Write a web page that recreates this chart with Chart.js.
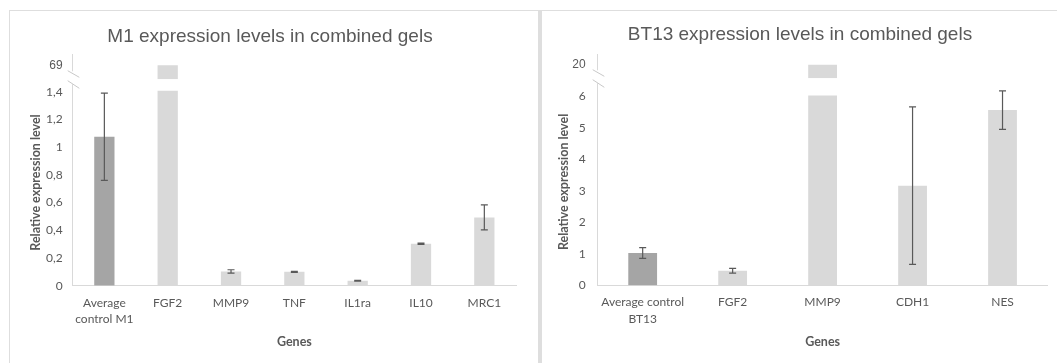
<!DOCTYPE html>
<html>
<head>
<meta charset="utf-8">
<script src="https://cdn.jsdelivr.net/npm/chart.js@4.4.1/dist/chart.umd.min.js"></script>
<style>
  html, body { margin: 0; padding: 0; background: #fff; overflow: hidden; }
  .panel { position: absolute; border: 1px solid #dedede; width: 528px; height: 370px; background: #fff; }
  #panelM1 { left: 9px; top: 10px; border-right-width: 2px; }
  #panelBT13 { left: 540px; top: 10px; border-left-width: 2px; }
</style>
</head>
<body>
<div class="panel" id="panelM1"><canvas id="chartM1"></canvas></div>
<div class="panel" id="panelBT13"><canvas id="chartBT13"></canvas></div>
<script>
// M1 data
const m1Labels = [['Average', 'control M1'], 'FGF2', 'MMP9', 'TNF', 'IL1ra', 'IL10', 'MRC1'];
const m1Values = [1.075, 69, 0.103, 0.1, 0.035, 0.303, 0.493];
const m1Errors = [0.315, null, 0.012, 0.004, 0.003, 0.004, 0.09];
const m1Ticks = [0, 0.2, 0.4, 0.6, 0.8, 1, 1.2, 1.4];
const m1TopTicks = [69];

// BT13 data
const bt13Labels = [['Average control', 'BT13'], 'FGF2', 'MMP9', 'CDH1', 'NES'];
const bt13Values = [1.03, 0.47, 20, 3.17, 5.57];
const bt13Errors = [0.17, 0.075, null, 2.5, 0.61];
const bt13Ticks = [0, 1, 2, 3, 4, 5, 6];
const bt13TopTicks = [20];

const DARK = '#a5a5a5';
const LIGHT = '#d9d9d9';
const TEXT = '#595959';
const AXIS = '#d9d9d9';

// clip each bar dataset to its own part of the broken axis
const breakClip = {
    id: 'breakClip',
    beforeDatasetDraw(chart, args) {
        const ds = chart.data.datasets[args.index];
        const ys = chart.scales[args.meta.yAxisID];
        const area = chart.chartArea;
        let top = area.top;
        let bottom = area.bottom;
        if (ds.cutAt !== undefined) {
            top = ys.getPixelForValue(ds.cutAt) - 1;
        } else {
            bottom = ys.bottom;
        }
        const ctx = chart.ctx;
        ctx.save();
        ctx.beginPath();
        ctx.rect(area.left, top, area.width, bottom - top);
        ctx.clip();
    },
    afterDatasetDraw(chart) {
        chart.ctx.restore();
    }
};

const errorBars = {
    id: 'errorBars',
    afterDatasetsDraw(chart) {
        const ctx = chart.ctx;
        chart.data.datasets.forEach((ds, di) => {
            if (!ds.errors) return;
            const meta = chart.getDatasetMeta(di);
            const ys = chart.scales[meta.yAxisID];
            ctx.save();
            ctx.strokeStyle = TEXT;
            ctx.lineWidth = 1.2;
            ds.errors.forEach((e, i) => {
                if (e === null) return;
                const x = meta.data[i].x;
                const v = ds.data[i];
                const y1 = ys.getPixelForValue(v + e);
                const y2 = ys.getPixelForValue(v - e);
                ctx.beginPath();
                ctx.moveTo(x, y1); ctx.lineTo(x, y2);
                ctx.moveTo(x - 3.5, y1); ctx.lineTo(x + 3.5, y1);
                ctx.moveTo(x - 3.5, y2); ctx.lineTo(x + 3.5, y2);
                ctx.stroke();
            });
            ctx.restore();
        });
    }
};

const axisBreak = {
    id: 'axisBreak',
    afterDraw(chart) {
        const up = chart.scales.yTop;
        const ctx = chart.ctx;
        const x = up.right;
        const b = up.bottom;
        ctx.save();
        ctx.fillStyle = '#fff';
        ctx.fillRect(x - 2, b - 8, 4, 13);
        ctx.strokeStyle = '#c8c8c8';
        ctx.lineWidth = 1;
        ctx.beginPath();
        ctx.moveTo(x - 5, b - 8.6); ctx.lineTo(x + 6.6, b - 2);
        ctx.moveTo(x - 5, b + 1.4); ctx.lineTo(x + 6.6, b + 9);
        ctx.stroke();
        ctx.restore();
    }
};

function fmt(v) {
    return String(v).replace('.', ',');
}

function makeChart(id, p) {
    const colors = p.values.map((v, i) => i === 0 ? DARK : LIGHT);
    const topValues = p.values.map(v => v > p.ticks[p.ticks.length - 1] ? v : null);
    return new Chart(document.getElementById(id), {
        type: 'bar',
        data: {
            labels: p.labels,
            datasets: [
                {
                    data: p.values,
                    errors: p.errors,
                    cutAt: p.ticks[p.ticks.length - 1],
                    yAxisID: 'y',
                    backgroundColor: colors,
                    grouped: false,
                    categoryPercentage: 1,
                    barPercentage: p.barPct
                },
                {
                    data: topValues,
                    yAxisID: 'yTop',
                    backgroundColor: colors,
                    grouped: false,
                    categoryPercentage: 1,
                    barPercentage: p.barPct
                }
            ]
        },
        options: {
            responsive: true,
            maintainAspectRatio: false,
            animation: false,
            layout: { padding: { left: p.padL, right: p.padR, top: 0, bottom: p.padB } },
            plugins: {
                legend: { display: false },
                tooltip: { enabled: false },
                title: {
                    display: true,
                    text: p.title,
                    color: TEXT,
                    font: { family: 'Liberation Sans', size: 19, weight: 'normal', lineHeight: 1.2 },
                    padding: { top: p.titleTop, bottom: 43 - p.titleTop - 22.8 }
                }
            },
            scales: {
                y: {
                    type: 'linear',
                    position: 'left',
                    stack: 'v',
                    stackWeight: p.lowWeight,
                    min: 0,
                    max: p.lowMax,
                    grid: { display: false, drawTicks: false },
                    border: { display: true, color: AXIS },
                    afterBuildTicks: s => { s.ticks = p.ticks.map(v => ({ value: v })); },
                    afterFit: s => { s.width = p.yW; },
                    ticks: {
                        padding: p.tickPad,
                        color: TEXT,
                        font: { family: 'Lato', size: 12 },
                        callback: v => fmt(v)
                    },
                    title: {
                        display: true,
                        text: 'Relative expression level',
                        color: TEXT,
                        font: { family: 'Lato', size: 12.5, weight: 'bold' }
                    }
                },
                yTop: {
                    type: 'linear',
                    position: 'left',
                    stack: 'v',
                    stackWeight: p.topWeight,
                    min: p.topMin,
                    max: p.topMax,
                    grid: { display: false, drawTicks: false },
                    border: { display: true, color: AXIS },
                    afterBuildTicks: s => { s.ticks = p.topTicks.map(v => ({ value: v })); },
                    afterFit: s => { s.width = p.yW; },
                    ticks: {
                        padding: p.tickPad,
                        color: TEXT,
                        font: { family: 'Liberation Sans', size: 12 }
                    }
                },
                x: {
                    grid: { display: false, drawTicks: false },
                    border: { display: true, color: AXIS },
                    afterFit: s => { s.height = 68; },
                    ticks: {
                        padding: 9,
                        color: TEXT,
                        maxRotation: 0,
                        autoSkip: false,
                        font: { family: 'Lato', size: 12, lineHeight: 1.35 }
                    },
                    title: {
                        display: true,
                        text: 'Genes',
                        color: TEXT,
                        font: { family: 'Lato', size: 12.5, weight: 'bold' }
                    }
                }
            }
        },
        plugins: [breakClip, errorBars, axisBreak]
    });
}

makeChart('chartM1', {
    title: 'M1 expression levels in combined gels',
    labels: m1Labels, values: m1Values, errors: m1Errors,
    ticks: m1Ticks, topTicks: m1TopTicks,
    topMin: 68, topMax: 69.8, lowMax: 1.49,
    topWeight: 25.3, lowWeight: 206.4,
    barPct: 0.32, padL: 14, padR: 22, padB: 27.3, yW: 48.7, tickPad: 10, titleTop: 14.6
});

makeChart('chartBT13', {
    title: 'BT13 expression levels in combined gels',
    labels: bt13Labels, values: bt13Values, errors: bt13Errors,
    ticks: bt13Ticks, topTicks: bt13TopTicks,
    topMin: 19, topMax: 20.8, lowMax: 6.58,
    topWeight: 24.3, lowWeight: 207.2,
    barPct: 0.32, padL: 10.5, padR: 22.5, padB: 27.5, yW: 45.2, tickPad: 12, titleTop: 12.6
});
</script>
</body>
</html>
